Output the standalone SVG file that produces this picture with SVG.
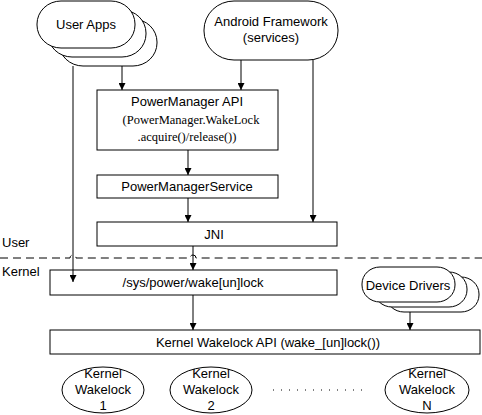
<svg xmlns="http://www.w3.org/2000/svg" width="482" height="415" viewBox="0 0 482 415">
<defs>
<marker id="arr" viewBox="0 0 10 10" refX="10" refY="5" markerWidth="7" markerHeight="7" markerUnits="userSpaceOnUse" orient="auto">
<path d="M0,0 L10,5 L0,10 z" fill="#000"/>
</marker>
</defs>
<style>
.s{fill:#fff;stroke:#000;stroke-width:1}
.t{font-family:"Liberation Sans",Arial,sans-serif;font-size:13px;fill:#000;text-anchor:middle}
.r{font-family:"Liberation Serif","Times New Roman",serif;font-size:12.5px;fill:#000;text-anchor:middle}
.l{fill:none;stroke:#000;stroke-width:1}
.a{fill:none;stroke:#000;stroke-width:1;marker-end:url(#arr)}
</style>
<rect width="482" height="415" fill="#fff"/>
<g id="user-apps">
<rect class="s" x="59" y="19" width="98" height="47" rx="24" ry="23"/>
<rect class="s" x="48" y="10" width="98" height="47" rx="24" ry="23"/>
<rect class="s" x="37" y="1" width="98" height="47" rx="24" ry="23"/>
<text class="t" x="86" y="29">User Apps</text>
</g>
<g id="android-framework">
<rect class="s" x="204" y="1" width="134" height="59" rx="30" ry="29"/>
<text class="t" x="271" y="26">Android Framework</text>
<text class="t" x="271" y="42">(services)</text>
</g>
<g id="powermanager-api">
<rect class="s" x="97" y="90" width="181" height="60"/>
<text class="t" x="187" y="106">PowerManager API</text>
<text class="r" x="191" y="124">(PowerManager.WakeLock</text>
<text class="r" x="187" y="141">.acquire()/release())</text>
</g>
<g id="powermanagerservice">
<rect class="s" x="97" y="175" width="181" height="23"/>
<text class="t" x="187" y="191">PowerManagerService</text>
</g>
<g id="jni">
<rect class="s" x="97" y="222" width="240" height="24"/>
<text class="t" x="214" y="239">JNI</text>
</g>
<g id="sys-power">
<rect class="s" x="50" y="270" width="287" height="25"/>
<text class="t" x="193" y="287">/sys/power/wake[un]lock</text>
</g>
<g id="device-drivers">
<rect class="s" x="386" y="277" width="93" height="35" rx="18" ry="17"/>
<rect class="s" x="374" y="272" width="93" height="35" rx="18" ry="17"/>
<rect class="s" x="362" y="267" width="93" height="35" rx="18" ry="17"/>
<text class="t" x="408" y="290">Device Drivers</text>
</g>
<g id="kernel-wakelock-api">
<rect class="s" x="50" y="330" width="430" height="24"/>
<text class="t" x="268" y="347">Kernel Wakelock API (wake_[un]lock())</text>
</g>
<g id="kernel-wakelock-1">
<ellipse class="s" cx="103" cy="390" rx="41" ry="23"/>
<text class="t" x="103" y="378">Kernel</text>
<text class="t" x="103" y="394">Wakelock</text>
<text class="t" x="103" y="410">1</text>
</g>
<g id="kernel-wakelock-2">
<ellipse class="s" cx="211" cy="390" rx="41" ry="23"/>
<text class="t" x="211" y="378">Kernel</text>
<text class="t" x="211" y="394">Wakelock</text>
<text class="t" x="211" y="410">2</text>
</g>
<g id="kernel-wakelock-n">
<ellipse class="s" cx="427" cy="390" rx="42" ry="23"/>
<text class="t" x="427" y="378">Kernel</text>
<text class="t" x="427" y="394">Wakelock</text>
<text class="t" x="427" y="410">N</text>
</g>
<g id="labels">
<text class="t" style="text-anchor:start" x="2" y="247">User</text>
<text class="t" style="text-anchor:start" x="2" y="276">Kernel</text>
</g>
<g id="connectors">
<path class="a" d="M73,66 V282"/>
<path class="a" d="M122,66 V90"/>
<path class="a" d="M241,60 V90"/>
<path class="a" d="M313,60 V222"/>
<path class="a" d="M188,150 V175"/>
<path class="a" d="M188,198 V222"/>
<path class="a" d="M193,246 V270"/>
<path class="a" d="M193,295 V330"/>
<path class="a" d="M410,312 V330"/>
<path class="l" stroke-dasharray="8,5" d="M0,258 H70 A3,3 0 0 1 76,258 H190 A3,3 0 0 1 196,258 H482"/>
<path class="l" stroke="#555" stroke-dasharray="1,7" d="M273,390 H368"/>
</g>
</svg>
